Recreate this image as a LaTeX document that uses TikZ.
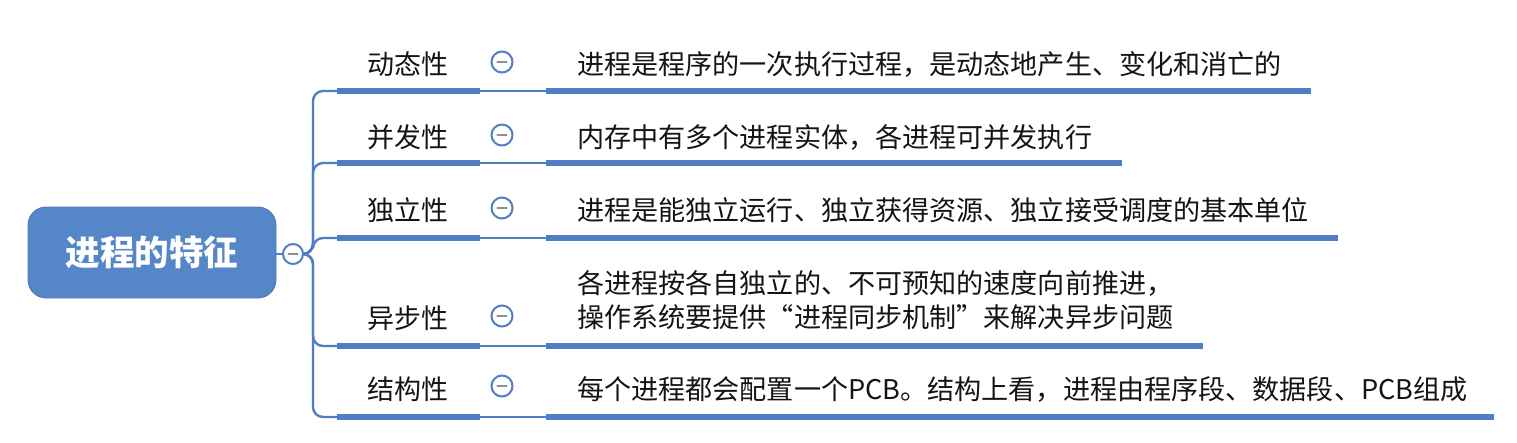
\documentclass[tikz,border=0pt]{standalone}
\usepackage{fontspec}
\newfontfamily\cjk{Noto Sans CJK SC}
\definecolor{lineblue}{HTML}{4F7FC2}
\definecolor{rootblue}{HTML}{5586C8}
\definecolor{dashgray}{HTML}{8C8C9C}
\definecolor{txt}{HTML}{141414}
\begin{document}
\begin{tikzpicture}[x=1pt,y=-1pt,
  rootbox/.style={draw=rootblue!90!black, line width=0.8pt, fill=rootblue, rounded corners=18pt,
    minimum width=248pt, minimum height=91pt, inner sep=0pt, text=white,
    font=\cjk\bfseries\fontsize{34.5}{38}\selectfont},
  lbl/.style={inner sep=0pt, text=txt, font=\cjk\fontsize{27}{30}\selectfont},
  desc/.style={inner sep=0pt, anchor=west, text=txt, align=left, font=\cjk\fontsize{27.1}{34}\selectfont},
  fold/.style={circle, draw=lineblue, line width=2pt, fill=white, minimum size=21pt, inner sep=0pt,
    path picture={\draw[dashgray, line width=2.2pt, line cap=round] ([xshift=-4.5pt]path picture bounding box.center) -- ([xshift=4.5pt]path picture bounding box.center);}},
  thick/.style={lineblue, line width=5.5pt},
  thin/.style={lineblue, line width=2pt},
  trunk/.style={lineblue, line width=2.4pt, rounded corners=10pt}
]
\useasboundingbox (0,0) rectangle (1517,442);
\fill[white] (0,0) rectangle (1517,442);

% root
\node[rootbox] (root) at (152,252.5) {进程的特征};
\node[fold, minimum size=20pt] (rc) at (293,254) {};
\draw[thin] (root.east |- rc) -- (rc.west);

% labels
\node[lbl] (l1) at (408,64) {动态性};
\node[lbl] (l2) at (408,137) {并发性};
\node[lbl] (l3) at (408,210) {独立性};
\node[lbl] (l4) at (408,318) {异步性};
\node[lbl] (l5) at (408,389) {结构性};

% fold circles
\node[fold] (c1) at (502,62) {};
\node[fold] (c2) at (502,135) {};
\node[fold] (c3) at (502,208) {};
\node[fold] (c4) at (502,316) {};
\node[fold] (c5) at (502,386) {};

% descriptions
\node[desc] (t1) at (577,64) {进程是程序的一次执行过程，是动态地产生、变化和消亡的};
\node[desc] (t2) at (577,137) {内存中有多个进程实体，各进程可并发执行};
\node[desc] (t3) at (577,210) {进程是能独立运行、独立获得资源、独立接受调度的基本单位};
\node[desc] (t4) at (577,300.5) {各进程按各自独立的、不可预知的速度向前推进，\\操作系统要提供“进程同步机制”来解决异步问题};
\node[desc] (t5) at (577,389) {每个进程都会配置一个PCB。结构上看，进程由程序段、数据段、PCB组成};

% underline coordinates
\foreach \i/\y/\e in {1/91/1311, 2/163/1122, 3/238/1338, 4/346/1203, 5/417/1494}{
  \coordinate (a\i) at (337,\y);
  \coordinate (b\i) at (480,\y);
  \coordinate (d\i) at (546,\y);
  \coordinate (e\i) at (\e,\y);
}
\coordinate (tr) at (313,254);

% trunk branches
\foreach \i in {1,...,5}{
  \draw[trunk] (rc.east) -- (tr) |- (a\i);
}

% underlines
\foreach \i in {1,...,5}{
  \draw[thin] (b\i) -- (d\i);
  \draw[thick] (a\i) -- (b\i);
  \draw[thick] (d\i) -- (e\i);
}
\end{tikzpicture}
\end{document}
